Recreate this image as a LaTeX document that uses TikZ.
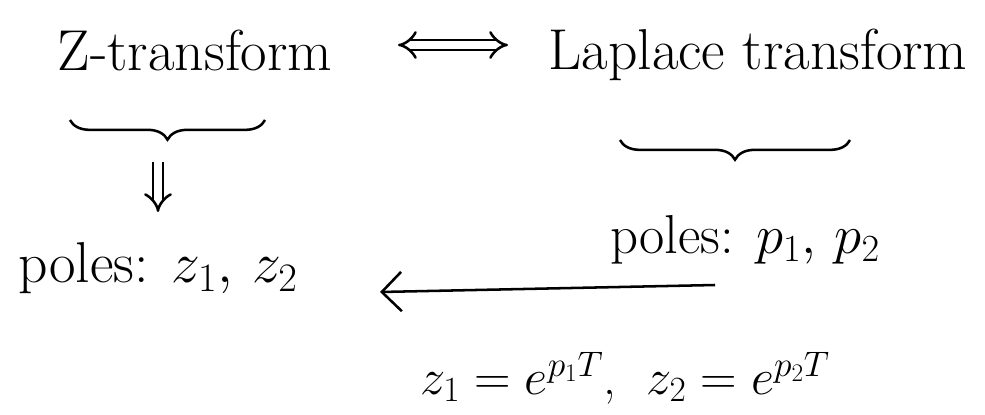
\RequirePackage{fix-cm}
\documentclass[tikz,border=0pt]{standalone}
\usetikzlibrary{decorations.pathreplacing,arrows.meta}
\begin{document}
\begin{tikzpicture}[x=0.025cm,y=-0.025cm,
  lbl/.style={inner sep=0pt,font=\fontsize{41}{48}\selectfont},
  brc/.style={decorate,decoration={brace,amplitude=14pt},line width=1.8pt},
  arr/.style={line width=1.8pt}]
\useasboundingbox (0,0) rectangle (985,414);
\node[lbl] (zt) at (195,50) {Z-transform};
\node[lbl] (lt) at (758,55) {Laplace transform};
\coordinate (da) at (398,45);
\coordinate (db) at (508,45);
\draw[arr,double distance=5pt,{Implies[]}-{Implies[]}] (da) -- (db);
\coordinate (b1l) at (70,120);
\coordinate (b1r) at (265,120);
\draw[brc] (b1r) -- (b1l);
\coordinate (b2l) at (620,140);
\coordinate (b2r) at (850,140);
\draw[brc] (b2r) -- (b2l);
\coordinate (ua) at (158,162);
\coordinate (ub) at (158,212);
\draw[arr,double distance=5pt,-{Implies[]}] (ua) -- (ub);
\node[lbl] (pz) at (158,268) {poles: $z_1,\,z_2$};
\node[lbl,font=\fontsize{39}{46}\selectfont] (pp) at (745,240) {poles: $p_1,\,p_2$};
\coordinate (aa) at (715,285);
\coordinate (ab) at (380,292);
\draw[arr,-{Straight Barb[length=14pt,width=28pt]}] (aa) -- (ab);
\node[lbl,font=\fontsize{36}{42}\selectfont] (eq) at (625,378) {$z_1=e^{p_1T}$,\ \ $z_2=e^{p_2T}$};
\end{tikzpicture}
\end{document}
